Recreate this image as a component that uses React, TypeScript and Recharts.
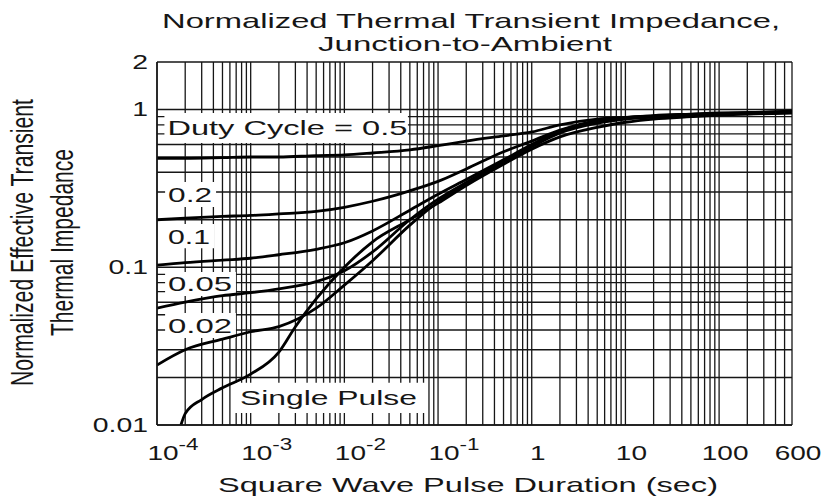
import React from 'react';
import { LineChart, Line, XAxis, YAxis, CartesianGrid, ReferenceArea } from 'recharts';

const FONT = '"Liberation Sans", Arial, Helvetica, sans-serif';
const INK = '#161616';

// pulse durations (sec) used by the duty-cycle curves
const durations = [1e-4, 2e-4, 5e-4, 1e-3, 2e-3, 5e-3, 1e-2, 2e-2, 5e-2, 0.1, 0.2, 0.5, 1, 2, 5, 10, 20, 50, 100, 200, 600];

const duty05 = [0.49, 0.49, 0.495, 0.5, 0.5, 0.51, 0.515, 0.53, 0.555, 0.59, 0.63, 0.68, 0.72, 0.8, 0.87, 0.89, 0.915, 0.935, 0.95, 0.955, 0.98];
const duty02 = [0.2, 0.205, 0.21, 0.213, 0.218, 0.226, 0.24, 0.262, 0.305, 0.35, 0.42, 0.54, 0.63, 0.74, 0.85, 0.89, 0.91, 0.93, 0.945, 0.955, 0.97];
const duty01 = [0.103, 0.107, 0.111, 0.114, 0.12, 0.13, 0.143, 0.17, 0.23, 0.29, 0.36, 0.48, 0.6, 0.73, 0.84, 0.88, 0.905, 0.925, 0.94, 0.95, 0.965];
const duty005 = [0.055, 0.06, 0.066, 0.069, 0.073, 0.081, 0.095, 0.125, 0.2, 0.27, 0.345, 0.47, 0.59, 0.72, 0.83, 0.875, 0.9, 0.92, 0.935, 0.945, 0.96];
const duty002 = [0.024, 0.03, 0.035, 0.039, 0.042, 0.055, 0.077, 0.11, 0.185, 0.26, 0.335, 0.46, 0.58, 0.71, 0.82, 0.87, 0.895, 0.915, 0.93, 0.94, 0.955];

// single pulse starts a bit later, at the bottom of the chart
const pulseDurations = [1.8e-4, 2e-4, 3e-4, 5e-4, 1e-3, 2e-3, 3e-3, 5e-3, 1e-2, 2e-2, 5e-2, 0.1, 0.2, 0.5, 1, 2, 5, 10, 20, 50, 100, 200, 600];
const singlePulse = [0.01, 0.0118, 0.0145, 0.0172, 0.021, 0.029, 0.042, 0.063, 0.1, 0.145, 0.2, 0.255, 0.33, 0.45, 0.56, 0.67, 0.77, 0.83, 0.87, 0.9, 0.92, 0.935, 0.95];

// axis ticks
const gridSteps = [1, 2, 3, 4, 5, 6, 7, 8, 9];
const xDecades = [1e-4, 1e-3, 1e-2, 0.1, 1, 10, 100];
const xMajor = [1e-4, 1e-3, 1e-2, 0.1, 1, 10, 100, 600];
const xMajorBase = ['10', '10', '10', '10', '1', '10', '100', '600'];
const xMajorExp = ['-4', '-3', '-2', '-1', '', '', '', ''];
const yDecades = [0.01, 0.1];
const yMajor = [0.01, 0.1, 1, 2];
const yMajorLabels = ['0.01', '0.1', '1', '2'];

const xTicks = xDecades
  .flatMap((d) => gridSteps.map((s) => +(s * d).toPrecision(3)))
  .filter((v) => v <= 600);
const yTicks = [...yDecades.flatMap((d) => gridSteps.map((s) => +(s * d).toPrecision(3))), 1, 2];

// in-plot callouts (white boxes that hide the grid)
const callouts = [
  { text: 'Duty Cycle = 0.5', x1: 1.2e-4, x2: 0.0477, y1: 0.614, y2: 0.951, w: 240, pad: 3 },
  { text: '0.2', x1: 1.22e-4, x2: 4.27e-4, y1: 0.241, y2: 0.347, w: 44, pad: 3 },
  { text: '0.1', x1: 1.22e-4, x2: 4.06e-4, y1: 0.132, y2: 0.188, w: 42, pad: 3 },
  { text: '0.05', x1: 1.22e-4, x2: 6.96e-4, y1: 0.0658, y2: 0.0933, w: 64, pad: 3 },
  { text: '0.02', x1: 1.22e-4, x2: 6.96e-4, y1: 0.0356, y2: 0.0513, w: 64, pad: 3 },
  { text: 'Single Pulse', x1: 6.8e-4, x2: 0.0762, y1: 0.0119, y2: 0.0185, w: 177, pad: 5 },
];

const toPoints = (xs: number[], ys: number[]) => xs.map((t, i) => ({ t, z: ys[i] }));

const curves = [
  { name: 'D=0.5', data: toPoints(durations, duty05) },
  { name: 'D=0.2', data: toPoints(durations, duty02) },
  { name: 'D=0.1', data: toPoints(durations, duty01) },
  { name: 'D=0.05', data: toPoints(durations, duty005) },
  { name: 'D=0.02', data: toPoints(durations, duty002) },
  { name: 'Single Pulse', data: toPoints(pulseDurations, singlePulse) },
];

const near = (a: number, b: number) => Math.abs(a - b) <= Math.abs(b) * 1e-6;

const XTick = (props: any) => {
  const { x, y, payload } = props;
  const i = xMajor.findIndex((v) => near(payload.value, v));
  if (i < 0) return <g />;
  const base = xMajorBase[i];
  const exp = xMajorExp[i];
  const baseW = base.length * 0.556 * 20;
  return (
    <g transform={`translate(${x + 6},${y + 35}) scale(1.4,1)`}>
      <text
        x={exp ? -baseW / 2 : 0}
        y={0}
        textAnchor={exp ? 'start' : 'middle'}
        fontSize={20}
        fontFamily={FONT}
        fill={INK}
      >
        {base}
        {exp && (
          <tspan dy={-10} fontSize={16}>
            {exp}
          </tspan>
        )}
      </text>
    </g>
  );
};

const YTick = (props: any) => {
  const { x, y, payload } = props;
  const i = yMajor.findIndex((v) => near(payload.value, v));
  if (i < 0) return <g />;
  return (
    <g transform={`translate(${x - 9},${y + 7}) scale(1.42,1)`}>
      <text x={0} y={0} textAnchor="end" fontSize={20} fontFamily={FONT} fill={INK}>
        {yMajorLabels[i]}
      </text>
    </g>
  );
};

const boxLabel = (text: string, w: number, pad: number) => (props: any) => {
  const vb = props.viewBox || {};
  return (
    <text
      x={vb.x + pad}
      y={vb.y + vb.height / 2 + 7.5}
      textLength={w}
      lengthAdjust="spacingAndGlyphs"
      fontSize={21}
      fontFamily={FONT}
      fill={INK}
    >
      {text}
    </text>
  );
};

const txt = { fontSize: 21, fontFamily: FONT, fill: INK } as const;

export default function App() {
  return (
    <div style={{ position: 'absolute', left: 0, top: 0, width: 831, height: 500, background: '#fff' }}>
      <LineChart width={831} height={500} margin={{ top: 62, right: 39, bottom: 25, left: 0 }}>
        <CartesianGrid stroke={INK} strokeWidth={1.3} />
        <XAxis
          dataKey="t"
          type="number"
          scale="log"
          domain={[1e-4, 600]}
          allowDataOverflow
          ticks={xTicks}
          interval={0}
          tick={<XTick />}
          tickLine={false}
          tickSize={0}
          tickMargin={0}
          height={50}
          axisLine={{ stroke: INK, strokeWidth: 1.5 }}
        />
        <YAxis
          type="number"
          scale="log"
          domain={[0.01, 2]}
          allowDataOverflow
          ticks={yTicks}
          interval={0}
          tick={<YTick />}
          tickLine={false}
          tickSize={0}
          tickMargin={0}
          width={157}
          axisLine={{ stroke: INK, strokeWidth: 1.5 }}
        />
        {callouts.map((c) => (
          <ReferenceArea
            key={c.text}
            x1={c.x1}
            x2={c.x2}
            y1={c.y1}
            y2={c.y2}
            fill="#fff"
            fillOpacity={1}
            stroke="none"
            label={boxLabel(c.text, c.w, c.pad)}
          />
        ))}
        {curves.map((c) => (
          <Line
            key={c.name}
            name={c.name}
            data={c.data}
            dataKey="z"
            type="monotone"
            stroke="#000"
            strokeWidth={2.8}
            dot={false}
            isAnimationActive={false}
          />
        ))}
      </LineChart>
      <svg width={831} height={500} style={{ position: 'absolute', left: 0, top: 0, pointerEvents: 'none' }}>
        <text x={162} y={28} textLength={618} lengthAdjust="spacingAndGlyphs" {...txt}>
          Normalized Thermal Transient Impedance,
        </text>
        <text x={318} y={51} textLength={294} lengthAdjust="spacingAndGlyphs" {...txt}>
          Junction-to-Ambient
        </text>
        <text x={218} y={492} textLength={500} lengthAdjust="spacingAndGlyphs" {...txt}>
          Square Wave Pulse Duration (sec)
        </text>
        <g transform="translate(22,243) scale(1.45,1) rotate(-90)">
          <text x={-143} y={7.5} textLength={287} lengthAdjust="spacingAndGlyphs" {...txt}>
            Normalized Effective Transient
          </text>
        </g>
        <g transform="translate(62,243) scale(1.45,1) rotate(-90)">
          <text x={-93} y={7.5} textLength={187} lengthAdjust="spacingAndGlyphs" {...txt}>
            Thermal Impedance
          </text>
        </g>
      </svg>
    </div>
  );
}
